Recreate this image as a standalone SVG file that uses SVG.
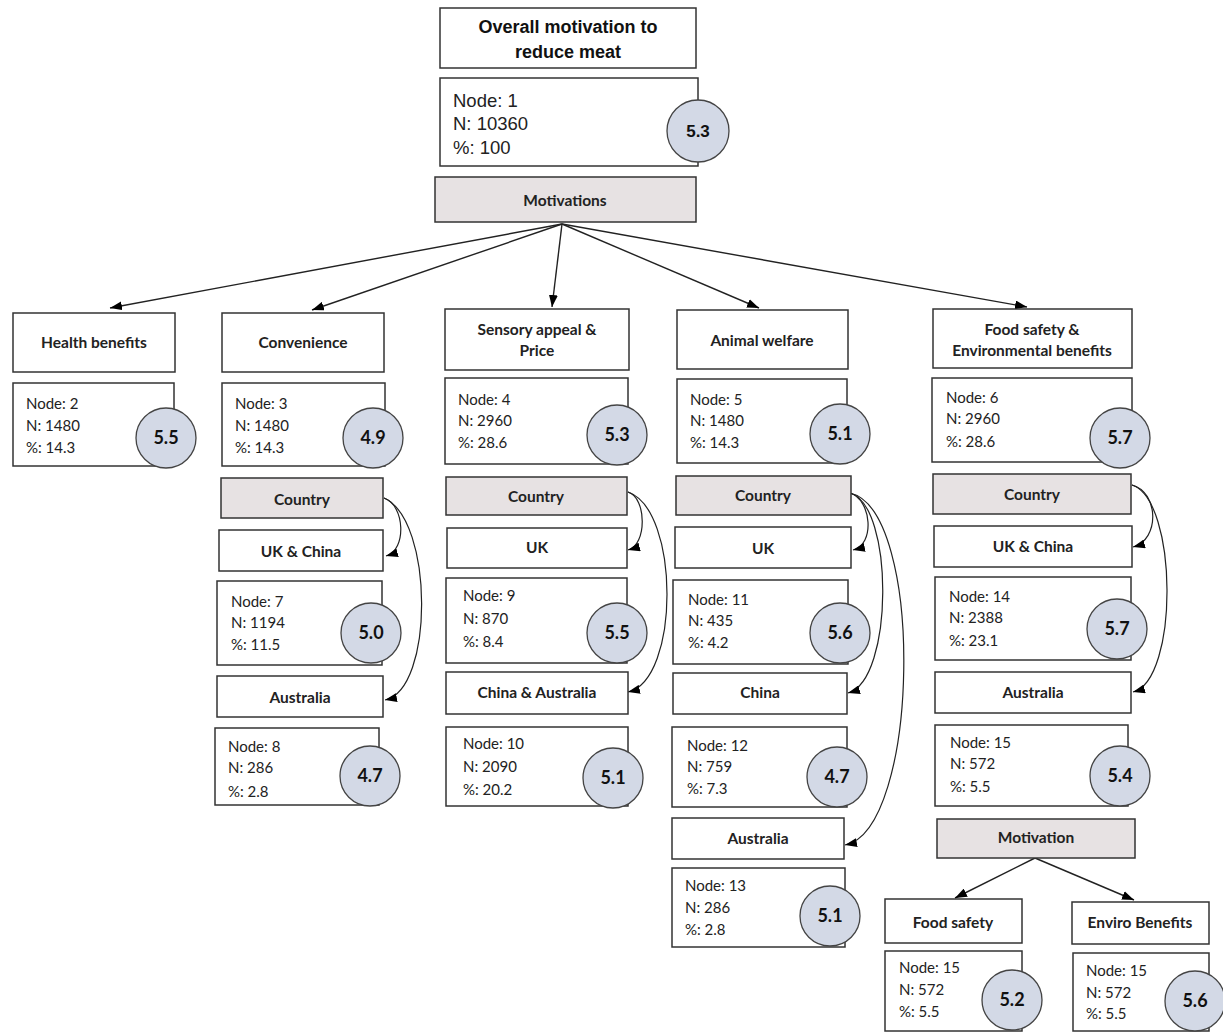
<svg xmlns="http://www.w3.org/2000/svg" width="1223" height="1033" viewBox="0 0 1223 1033">
<defs>
<marker id="arr" viewBox="0 0 12 9" refX="12" refY="4.5" markerWidth="12" markerHeight="9" markerUnits="userSpaceOnUse" orient="auto">
<path d="M0,0 L12,4.5 L0,9 z" fill="#000"/>
</marker>
<style>
.box{fill:#fff;stroke:#333;stroke-width:1.5}
.grey{fill:#e7e2e3;stroke:#333;stroke-width:1.5}
.c{fill:#d3d9e6;stroke:#444;stroke-width:1.3}
.lab{font-family:Lato,"Open Sans",sans-serif;font-weight:bold;font-size:15.5px;fill:#222;text-anchor:middle}
.t{font-family:Lato,"Open Sans",sans-serif;font-size:15px;fill:#222}
.v{font-family:Lato,"Open Sans",sans-serif;font-weight:bold;font-size:18px;fill:#111;text-anchor:middle}
.ar{font-family:"Liberation Sans",Arial,sans-serif}
.ln{fill:none;stroke:#222;stroke-width:1.4;marker-end:url(#arr)}
.cv{fill:none;stroke:#222;stroke-width:1.2;marker-end:url(#arr)}
</style>
</defs>
<rect width="1223" height="1033" fill="#fff"/>

<g id="connectors">
<path class="ln" d="M562,224 L110,308"/>
<path class="ln" d="M562,224 L312,310"/>
<path class="ln" d="M562,224 L552,307"/>
<path class="ln" d="M562,224 L759,308"/>
<path class="ln" d="M562,224 L1027,307"/>
<path class="cv" d="M384,498 C405,505 407,550 386,556"/>
<path class="cv" d="M384,498 C434,520 434,690 385,700"/>
<path class="cv" d="M628,492 C647,498 647,545 628,550"/>
<path class="cv" d="M628,492 C680,510 680,680 628,692"/>
<path class="cv" d="M850,493 C872,500 875,545 853,550"/>
<path class="cv" d="M850,493 C894,505 894,680 848,693"/>
<path class="cv" d="M850,493 C925,510 920,830 845,845"/>
<path class="cv" d="M1132,485 C1159,492 1160,540 1133,547"/>
<path class="cv" d="M1132,485 C1178,500 1179,680 1133,692"/>
<path class="ln" d="M1035,858 L955,898"/>
<path class="ln" d="M1035,858 L1134,900"/>
</g>

<g id="title">
<rect class="box" x="440" y="8" width="256" height="60"/>
<text class="ar" x="568" y="33" font-size="18" font-weight="bold" text-anchor="middle" fill="#111">Overall motivation to</text>
<text class="ar" x="568" y="58" font-size="18" font-weight="bold" text-anchor="middle" fill="#111">reduce meat</text>
</g>
<g id="node1">
<rect class="box" x="440" y="78" width="258" height="88"/>
<text class="ar" x="453" y="107" font-size="18.5" fill="#222">Node: 1</text>
<text class="ar" x="453" y="130" font-size="18.5" fill="#222">N: 10360</text>
<text class="ar" x="453" y="154" font-size="18.5" fill="#222">%: 100</text>
<circle class="c" cx="698" cy="131" r="31"/>
<text class="ar" x="698" y="137" font-size="17" font-weight="bold" text-anchor="middle" fill="#111">5.3</text>
</g>
<g id="motivations">
<rect class="grey" x="435" y="177" width="261" height="45"/>
<text class="lab" x="565" y="206">Motivations</text>
</g>

<g id="health">
<rect class="box" x="13" y="313" width="162" height="59"/>
<text class="lab" x="94" y="348">Health benefits</text>
</g>
<g id="node2">
<rect class="box" x="13" y="383" width="161" height="83"/>
<text class="t" x="26" y="409">Node: 2</text>
<text class="t" x="26" y="431">N: 1480</text>
<text class="t" x="26" y="453">%: 14.3</text>
<circle class="c" cx="166" cy="438" r="30"/>
<text class="v" x="166" y="444">5.5</text>
</g>

<g id="convenience">
<rect class="box" x="222" y="313" width="162" height="59"/>
<text class="lab" x="303" y="348">Convenience</text>
</g>
<g id="node3">
<rect class="box" x="222" y="383" width="163" height="83"/>
<text class="t" x="235" y="409">Node: 3</text>
<text class="t" x="235" y="431">N: 1480</text>
<text class="t" x="235" y="453">%: 14.3</text>
<circle class="c" cx="373" cy="438" r="30"/>
<text class="v" x="373" y="444">4.9</text>
</g>
<g id="country1">
<rect class="grey" x="221" y="478" width="162" height="40"/>
<text class="lab" x="302" y="505">Country</text>
</g>
<g id="ukchina1">
<rect class="box" x="219" y="530" width="164" height="41"/>
<text class="lab" x="301" y="557">UK &amp; China</text>
</g>
<g id="node7">
<rect class="box" x="217" y="581" width="165" height="84"/>
<text class="t" x="231" y="607">Node: 7</text>
<text class="t" x="231" y="628">N: 1194</text>
<text class="t" x="231" y="650">%: 11.5</text>
<circle class="c" cx="371" cy="633" r="30"/>
<text class="v" x="371" y="639">5.0</text>
</g>
<g id="australia1">
<rect class="box" x="217" y="676" width="166" height="41"/>
<text class="lab" x="300" y="703">Australia</text>
</g>
<g id="node8">
<rect class="box" x="215" y="728" width="164" height="77"/>
<text class="t" x="228" y="752">Node: 8</text>
<text class="t" x="228" y="773">N: 286</text>
<text class="t" x="228" y="797">%: 2.8</text>
<circle class="c" cx="370" cy="776" r="30"/>
<text class="v" x="370" y="782">4.7</text>
</g>

<g id="sensory">
<rect class="box" x="445" y="309" width="184" height="61"/>
<text class="lab" x="537" y="335">Sensory appeal &amp;</text>
<text class="lab" x="537" y="356">Price</text>
</g>
<g id="node4">
<rect class="box" x="445" y="378" width="183" height="86"/>
<text class="t" x="458" y="405">Node: 4</text>
<text class="t" x="458" y="426">N: 2960</text>
<text class="t" x="458" y="448">%: 28.6</text>
<circle class="c" cx="617" cy="435" r="30"/>
<text class="v" x="617" y="441">5.3</text>
</g>
<g id="country2">
<rect class="grey" x="446" y="477" width="181" height="38"/>
<text class="lab" x="536" y="502">Country</text>
</g>
<g id="uk2">
<rect class="box" x="447" y="528" width="180" height="40"/>
<text class="lab" x="537" y="553">UK</text>
</g>
<g id="node9">
<rect class="box" x="446" y="578" width="181" height="85"/>
<text class="t" x="463" y="601">Node: 9</text>
<text class="t" x="463" y="624">N: 870</text>
<text class="t" x="463" y="647">%: 8.4</text>
<circle class="c" cx="617" cy="633" r="30"/>
<text class="v" x="617" y="639">5.5</text>
</g>
<g id="chinaaus2">
<rect class="box" x="446" y="672" width="182" height="42"/>
<text class="lab" x="537" y="698">China &amp; Australia</text>
</g>
<g id="node10">
<rect class="box" x="446" y="727" width="182" height="79"/>
<text class="t" x="463" y="749">Node: 10</text>
<text class="t" x="463" y="772">N: 2090</text>
<text class="t" x="463" y="795">%: 20.2</text>
<circle class="c" cx="613" cy="778" r="30"/>
<text class="v" x="613" y="784">5.1</text>
</g>

<g id="animal">
<rect class="box" x="677" y="310" width="171" height="59"/>
<text class="lab" x="762" y="346">Animal welfare</text>
</g>
<g id="node5">
<rect class="box" x="677" y="379" width="170" height="84"/>
<text class="t" x="690" y="405">Node: 5</text>
<text class="t" x="690" y="426">N: 1480</text>
<text class="t" x="690" y="448">%: 14.3</text>
<circle class="c" cx="840" cy="434" r="30"/>
<text class="v" x="840" y="440">5.1</text>
</g>
<g id="country3">
<rect class="grey" x="676" y="476" width="175" height="39"/>
<text class="lab" x="763" y="501">Country</text>
</g>
<g id="uk3">
<rect class="box" x="675" y="527" width="176" height="41"/>
<text class="lab" x="763" y="554">UK</text>
</g>
<g id="node11">
<rect class="box" x="673" y="580" width="175" height="84"/>
<text class="t" x="688" y="605">Node: 11</text>
<text class="t" x="688" y="626">N: 435</text>
<text class="t" x="688" y="648">%: 4.2</text>
<circle class="c" cx="840" cy="633" r="30"/>
<text class="v" x="840" y="639">5.6</text>
</g>
<g id="china3">
<rect class="box" x="673" y="673" width="174" height="41"/>
<text class="lab" x="760" y="698">China</text>
</g>
<g id="node12">
<rect class="box" x="672" y="727" width="175" height="80"/>
<text class="t" x="687" y="751">Node: 12</text>
<text class="t" x="687" y="772">N: 759</text>
<text class="t" x="687" y="794">%: 7.3</text>
<circle class="c" cx="837" cy="777" r="30"/>
<text class="v" x="837" y="783">4.7</text>
</g>
<g id="australia3">
<rect class="box" x="672" y="818" width="172" height="41"/>
<text class="lab" x="758" y="844">Australia</text>
</g>
<g id="node13">
<rect class="box" x="672" y="868" width="173" height="79"/>
<text class="t" x="685" y="891">Node: 13</text>
<text class="t" x="685" y="913">N: 286</text>
<text class="t" x="685" y="935">%: 2.8</text>
<circle class="c" cx="830" cy="916" r="30"/>
<text class="v" x="830" y="922">5.1</text>
</g>

<g id="foodenv">
<rect class="box" x="933" y="309" width="199" height="59"/>
<text class="lab" x="1032" y="335">Food safety &amp;</text>
<text class="lab" x="1032" y="356">Environmental benefits</text>
</g>
<g id="node6">
<rect class="box" x="932" y="378" width="200" height="84"/>
<text class="t" x="946" y="403">Node: 6</text>
<text class="t" x="946" y="424">N: 2960</text>
<text class="t" x="946" y="447">%: 28.6</text>
<circle class="c" cx="1120" cy="438" r="30"/>
<text class="v" x="1120" y="444">5.7</text>
</g>
<g id="country4">
<rect class="grey" x="933" y="474" width="198" height="40"/>
<text class="lab" x="1032" y="500">Country</text>
</g>
<g id="ukchina4">
<rect class="box" x="934" y="526" width="198" height="41"/>
<text class="lab" x="1033" y="552">UK &amp; China</text>
</g>
<g id="node14">
<rect class="box" x="935" y="577" width="196" height="83"/>
<text class="t" x="949" y="602">Node: 14</text>
<text class="t" x="949" y="623">N: 2388</text>
<text class="t" x="949" y="646">%: 23.1</text>
<circle class="c" cx="1117" cy="629" r="30"/>
<text class="v" x="1117" y="635">5.7</text>
</g>
<g id="australia4">
<rect class="box" x="935" y="672" width="196" height="41"/>
<text class="lab" x="1033" y="698">Australia</text>
</g>
<g id="node15">
<rect class="box" x="935" y="725" width="193" height="81"/>
<text class="t" x="950" y="748">Node: 15</text>
<text class="t" x="950" y="769">N: 572</text>
<text class="t" x="950" y="792">%: 5.5</text>
<circle class="c" cx="1120" cy="776" r="30"/>
<text class="v" x="1120" y="782">5.4</text>
</g>
<g id="motivation">
<rect class="grey" x="937" y="819" width="198" height="39"/>
<text class="lab" x="1036" y="843">Motivation</text>
</g>
<g id="foodsafety">
<rect class="box" x="885" y="899" width="137" height="44"/>
<text class="lab" x="953" y="928">Food safety</text>
</g>
<g id="node15a">
<rect class="box" x="885" y="951" width="137" height="80"/>
<text class="t" x="899" y="973">Node: 15</text>
<text class="t" x="899" y="995">N: 572</text>
<text class="t" x="899" y="1017">%: 5.5</text>
<circle class="c" cx="1012" cy="1000" r="30"/>
<text class="v" x="1012" y="1006">5.2</text>
</g>
<g id="enviro">
<rect class="box" x="1072" y="902" width="137" height="42"/>
<text class="lab" x="1140" y="928">Enviro Benefits</text>
</g>
<g id="node15b">
<rect class="box" x="1073" y="953" width="136" height="78"/>
<text class="t" x="1086" y="976">Node: 15</text>
<text class="t" x="1086" y="998">N: 572</text>
<text class="t" x="1086" y="1019">%: 5.5</text>
<circle class="c" cx="1195" cy="1001" r="30"/>
<text class="v" x="1195" y="1007">5.6</text>
</g>
</svg>
